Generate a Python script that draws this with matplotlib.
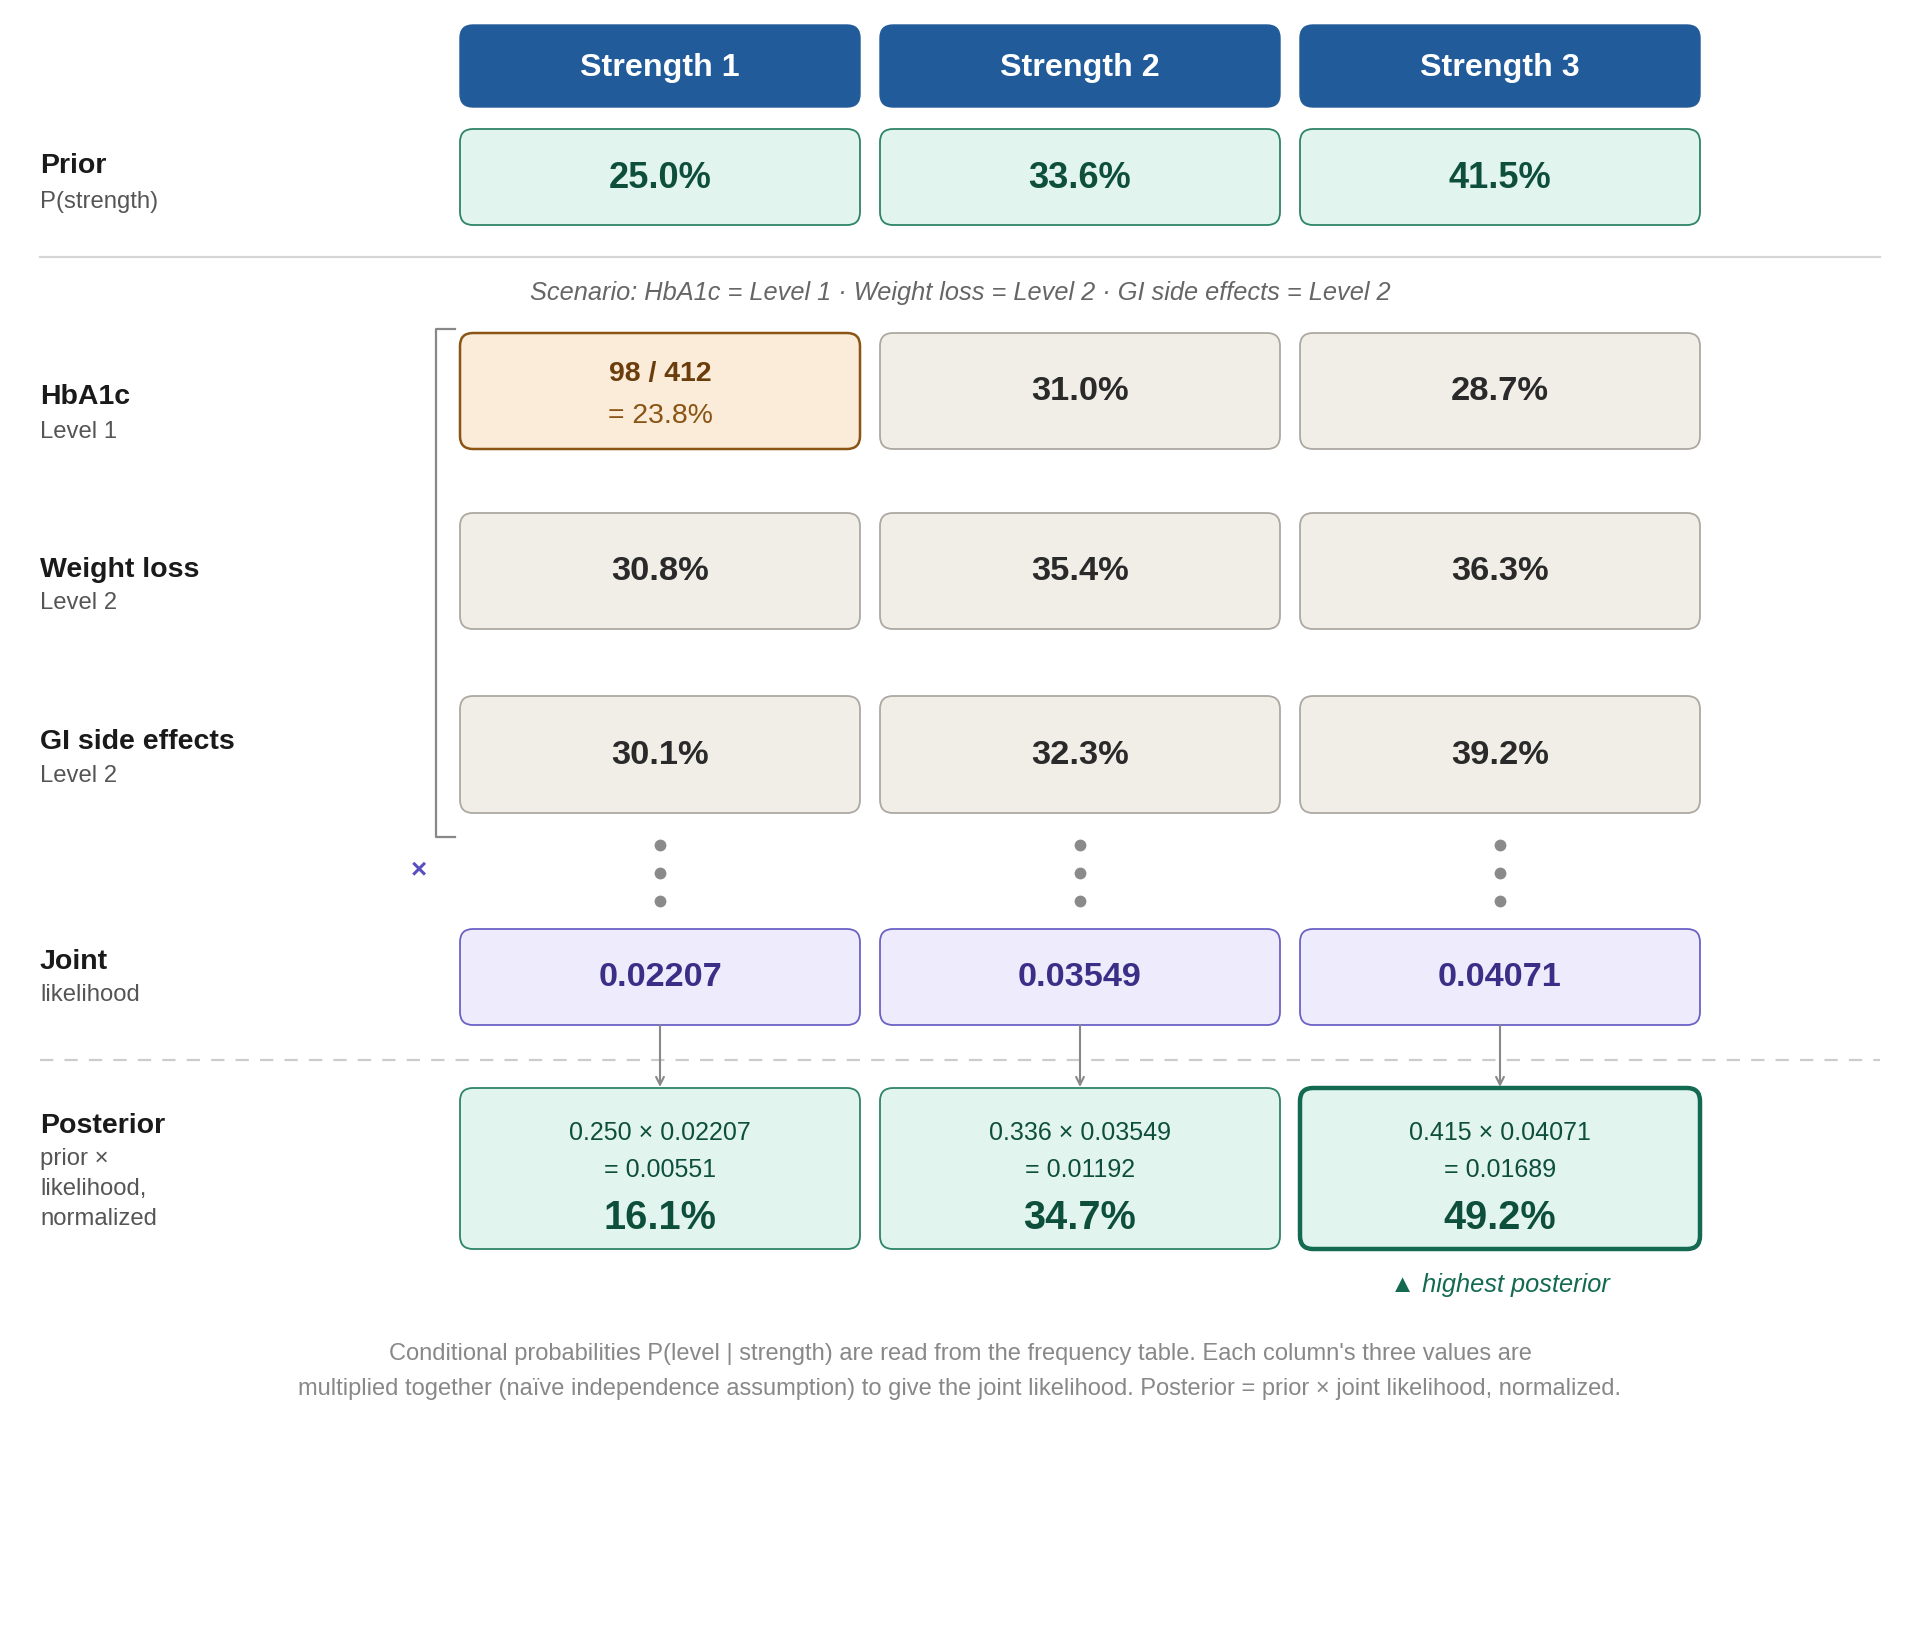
import matplotlib
matplotlib.use("Agg")
import matplotlib.pyplot as plt
from matplotlib.patches import FancyBboxPatch

plt.rcParams['font.family'] = ['Liberation Sans', 'DejaVu Sans']

# ---------------- data ----------------
strengths = ["Strength 1", "Strength 2", "Strength 3"]
priors = [25.0, 33.6, 41.5]
prior_frac = [0.250, 0.336, 0.415]
features = ["HbA1c", "Weight loss", "GI side effects"]
levels = ["Level 1", "Level 2", "Level 2"]
cond = [[23.8, 31.0, 28.7],
        [30.8, 35.4, 36.3],
        [30.1, 32.3, 39.2]]
count_num, count_den = 98, 412
joint = [0.02207, 0.03549, 0.04071]
unnorm = [0.00551, 0.01192, 0.01689]
posterior = [16.1, 34.7, 49.2]
scenario = "Scenario: HbA1c = Level 1 · Weight loss = Level 2 · GI side effects = Level 2"
footer = ["Conditional probabilities P(level | strength) are read from the frequency table. Each column's three values are",
          "multiplied together (naïve independence assumption) to give the joint likelihood. Posterior = prior × joint likelihood, normalized."]

# ---------------- figure ----------------
W, H = 1920, 1640
fig = plt.figure(figsize=(W / 100, H / 100), dpi=100)
ax = fig.add_axes([0, 0, 1, 1])
ax.set_xlim(0, W)
ax.set_ylim(H, 0)
ax.axis('off')

centers = [660, 1080, 1500]
BW = 400
LX = 40
DY = 2  # global vertical offset


def Y(v):
    return v + DY


def box(cx, y0, y1, fc, ec, lw=1.3, r=13):
    p = FancyBboxPatch((cx - BW / 2, Y(y0)), BW, y1 - y0,
                       boxstyle=f"round,pad=0,rounding_size={r}",
                       fc=fc, ec=ec, lw=lw)
    ax.add_patch(p)


def txt(x, y, s, **kw):
    kw.setdefault('va', 'center')
    ax.text(x, Y(y), s, **kw)


def label(y1, t1, y2, t2):
    txt(LX, y1, t1, ha='left', fontsize=20.5, fontweight='bold', color='#1a1a1a')
    txt(LX, y2, t2, ha='left', fontsize=17.2, color='#555555')


# header
for cx, s in zip(centers, strengths):
    box(cx, 24, 106, '#215B99', '#215B99', lw=1)
    txt(cx, 66, s, ha='center', fontsize=23.2, fontweight='bold', color='white')

# prior
label(164, "Prior", 200, "P(strength)")
for cx, p in zip(centers, priors):
    box(cx, 128, 224, '#E1F4EE', '#2E8468')
    txt(cx, 176, f"{p:.1f}%", ha='center', fontsize=26.1, fontweight='bold', color='#0E4F3B')

ax.plot([40, 1880], [Y(256), Y(256)], color='#D5D5D5', lw=1.6)

txt(960, 291, scenario, ha='center', fontsize=18.3, style='italic', color='#666666')

# conditional rows
row_y = [(332, 448), (512, 628), (695, 812)]
lab_y = [(395, 430), (568, 601), (740, 774)]
for i in range(3):
    y0, y1 = row_y[i]
    label(lab_y[i][0], features[i], lab_y[i][1], levels[i])
    for j, cx in enumerate(centers):
        ym = (y0 + y1) / 2
        if i == 0 and j == 0:
            box(cx, y0, y1, '#FAECD8', '#8A5414', lw=1.8)
            txt(cx, ym - 18, f"{count_num} / {count_den}", ha='center',
                fontsize=20.5, fontweight='bold', color='#6B3D0C')
            txt(cx, ym + 24, f"= {cond[i][j]:.1f}%", ha='center',
                fontsize=20.4, color='#8A5414')
        else:
            box(cx, y0, y1, '#F1EEE8', '#ADA8A1')
            txt(cx, ym, f"{cond[i][j]:.1f}%", ha='center',
                fontsize=24.8, fontweight='bold', color='#2A2A2A')

# bracket
ax.plot([455, 436, 436, 455], [Y(328), Y(328), Y(836), Y(836)], color='#888888', lw=1.6)
txt(419, 868, "×", ha='center', fontsize=20, fontweight='bold', color='#5A4FC0')

# dots
for cx in centers:
    ax.plot([cx, cx, cx], [Y(844), Y(872), Y(900)], ls='none', marker='o', ms=8.5,
            color='#8A8A8A', mec='none')

# joint
label(960, "Joint", 993, "likelihood")
for cx, v in zip(centers, joint):
    box(cx, 928, 1024, '#EEECFC', '#6B62C6')
    txt(cx, 976, f"{v:.5f}", ha='center', fontsize=24.7, fontweight='bold', color='#3A2E86')

# dashed separator
ax.plot([40, 1880], [Y(1059), Y(1059)], color='#CCCCCC', lw=1.6, dashes=(6, 5))

# arrows
for cx in centers:
    ax.annotate('', xy=(cx, Y(1086)), xytext=(cx, Y(1024)),
                arrowprops=dict(arrowstyle='->', color='#888888', lw=1.5,
                                shrinkA=0, shrinkB=0, mutation_scale=14))

# posterior
txt(LX, 1124, "Posterior", ha='left', fontsize=20.5, fontweight='bold', color='#1a1a1a')
for k, t in enumerate(["prior ×", "likelihood,", "normalized"]):
    txt(LX, 1157 + 30 * k, t, ha='left', fontsize=17.2, color='#555555')

best = posterior.index(max(posterior))
for j, cx in enumerate(centers):
    if j == best:
        box(cx, 1087, 1248, '#E1F4EE', '#136A50', lw=3.2)
    else:
        box(cx, 1087, 1248, '#E1F4EE', '#2E8468')
    txt(cx, 1131, f"{prior_frac[j]:.3f} × {joint[j]:.5f}", ha='center',
        fontsize=18, color='#0E4F3B')
    txt(cx, 1168, f"= {unnorm[j]:.5f}", ha='center', fontsize=18, color='#0E4F3B')
    txt(cx, 1216, f"{posterior[j]:.1f}%", ha='center', fontsize=28.6,
        fontweight='bold', color='#0E4F3B')

txt(centers[best], 1283, "▲ highest posterior", ha='center', fontsize=18.3,
    style='italic', color='#136A50', family=['Liberation Sans', 'DejaVu Sans'])

for k, t in enumerate(footer):
    txt(960, 1352 + 35 * k, t, ha='center', fontsize=17, color='#888888')

fig.savefig("out.png", dpi=100, facecolor='white')
